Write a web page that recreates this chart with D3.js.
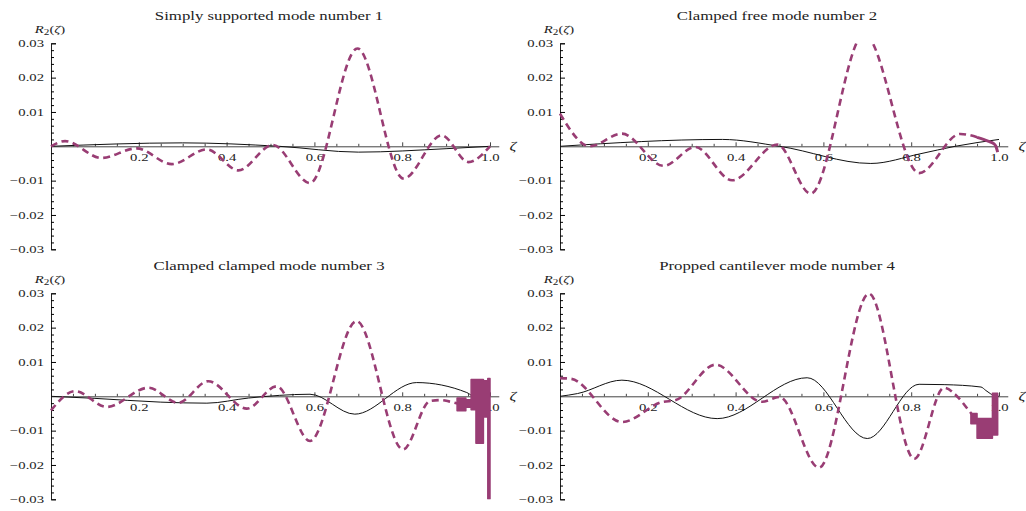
<!DOCTYPE html>
<html>
<head>
<meta charset="utf-8">
<script src="https://cdn.jsdelivr.net/npm/d3@7"></script>
<style>
  html, body { margin: 0; padding: 0; background: #fff; }
  svg text { font-family: "Liberation Serif", "Times New Roman", serif; fill: #222; }
</style>
</head>
<body>
<svg id="chart" width="1026" height="511"></svg>
<script>
// values, [zeta, R2]
const titles = [
  "Simply supported mode number 1",
  "Clamped free mode number 2",
  "Clamped clamped mode number 3",
  "Propped cantilever mode number 4"
];
const xMajor = [0.2, 0.4, 0.6, 0.8, 1.0];
const yMajor = [-0.03, -0.02, -0.01, 0.01, 0.02, 0.03];

const dashed1 = [[0, 0], [0.032, 0.0015], [0.115, -0.0034], [0.195, -0.0006], [0.275, -0.0052], [0.355, -0.0009],
  [0.427, -0.007], [0.505, 0.0004], [0.59, -0.0107], [0.698, 0.0285], [0.803, -0.0094], [0.89, 0.0032],
  [0.951, -0.0046], [1.0, 0.0]];
const solid1 = [[0, 0], [0.3, 0.001], [0.52, 0], [0.7, -0.0017], [0.9, -0.0007], [1.0, 0]];

const dashed2 = [[0, 0.0095], [0.068, 0], [0.141, 0.0037], [0.236, -0.0057], [0.308, -0.0002], [0.392, -0.0099],
  [0.495, 0.0005], [0.571, -0.0138], [0.693, 0.0327], [0.818, -0.0078], [0.912, 0.0036], [0.96, 0.0022]];
const thick2 = [[0.95, 0.0026], [0.975, 0.0015], [0.988, 0.0008], [0.993, 0.0], [0.997, -0.0017]];
const solid2 = [[0, 0], [0.37, 0.002], [0.5, 0], [0.708, -0.005], [0.82, -0.0022], [0.9, 0], [1.0, 0.002]];

const dashed3 = [[0, -0.0041], [0.055, 0.0015], [0.127, -0.0031], [0.222, 0.0025], [0.29, -0.0019], [0.358, 0.0044],
  [0.446, -0.0036], [0.514, 0.0029], [0.59, -0.013], [0.696, 0.0219], [0.802, -0.0155], [0.863, -0.0014],
  [0.89, -0.0011], [0.91, -0.0016], [0.935, -0.0022], [0.957, -0.002]];
// noisy end: [zeta, top, bottom]
const band3 = [[0.925, -0.0005, -0.0042], [0.945, -0.001, -0.0032], [0.957, 0.0049, -0.0039], [0.968, 0.0049, -0.0137],
  [0.985, 0.0045, -0.006], [0.995, 0.0052, -0.03], [1.0, 0.0052, -0.03]];
const solid3 = [[0, 0], [0.1, -0.0006], [0.25, -0.0017], [0.355, -0.002], [0.45, -0.0005], [0.59, 0.0006],
  [0.692, -0.0052], [0.833, 0.004], [0.947, 0.0011], [0.96, 0]];

const dashed4 = [[0, 0.0053], [0.025, 0.0051], [0.141, -0.0075], [0.235, -0.0016], [0.262, -0.0012], [0.354, 0.0092],
  [0.46, -0.0016], [0.5, -0.0002], [0.59, -0.0208], [0.704, 0.0299], [0.807, -0.0182], [0.875, 0.0025],
  [0.906, -0.0002], [0.928, -0.0036], [0.94, -0.0055]];
const band4 = [[0.936, -0.005, -0.008], [0.95, -0.0065, -0.0122], [0.985, 0.0009, -0.0113], [0.997, 0.0009, -0.0113]];
const solid4 = [[0, 0], [0.04, 0.0008], [0.141, 0.0047], [0.358, -0.0065], [0.563, 0.0054], [0.7, -0.0123],
  [0.818, 0.0035], [0.875, 0.0034], [0.959, 0.0027], [0.97, 0.0017], [0.98, 0.0008], [0.99, 0.0001], [1.0, 0]];

const panels = [
  { title: titles[0], dashed: dashed1, solid: solid1, band: [], thick: [] },
  { title: titles[1], dashed: dashed2, solid: solid2, band: [], thick: thick2 },
  { title: titles[2], dashed: dashed3, solid: solid3, band: band3, thick: [] },
  { title: titles[3], dashed: dashed4, solid: solid4, band: band4, thick: [] }
];

const PURPLE = "#993d74";
const SX = 1.4; // the reference is stretched horizontally
const COLX = [51, 560], ROWY = [43.3, 293.3], TITLE_X = [269, 777];
const PW = 439, PH = 206, XMAX = 1.02;

const svg = d3.select("#chart");
const fy = d3.format(".2f"), fx = d3.format(".1f");
const xMinor = d3.range(0.05, 1.0, 0.05).filter((v) => Math.abs(v * 5 - Math.round(v * 5)) > 1e-6);
const yMinor = d3.range(-0.03, 0.0301, 0.002).filter((v) => Math.abs(v * 100 - Math.round(v * 100)) > 1e-6);

function stretchText(sel) { sel.attr("transform", `scale(${SX},1)`); }

panels.forEach((p, i) => {
  const ox = COLX[i % 2], oy = ROWY[Math.floor(i / 2)];
  const x = d3.scaleLinear().domain([0, XMAX]).range([ox, ox + PW * XMAX]);
  const y = d3.scaleLinear().domain([-0.03, 0.03]).range([oy + PH, oy]);
  const g = svg.append("g");

  g.append("clipPath").attr("id", "clip" + i).append("rect")
    .attr("x", ox - 4).attr("y", oy).attr("width", PW * XMAX + 8).attr("height", PH);

  // x axis
  const xa = g.append("g").attr("transform", `translate(0,${y(0)})`)
    .call(d3.axisBottom(x).tickValues(xMajor).tickFormat(fx).tickSizeInner(-4).tickSizeOuter(0).tickPadding(7));
  xa.attr("font-family", null).attr("font-size", 10.5);
  xa.select(".domain").attr("stroke", "#444");
  xa.selectAll(".tick line").attr("stroke", "#444");
  xa.selectAll("text").call(stretchText);
  const xm = g.append("g").attr("transform", `translate(0,${y(0)})`)
    .call(d3.axisBottom(x).tickValues(xMinor).tickFormat("").tickSize(-2.5));
  xm.select(".domain").remove();
  xm.selectAll(".tick line").attr("stroke", "#444");

  // y axis
  const ya = g.append("g").attr("transform", `translate(${x(0)},0)`)
    .call(d3.axisLeft(y).tickValues(yMajor).tickFormat(fy).tickSizeInner(-5).tickSizeOuter(-5).tickPadding(5));
  ya.attr("font-family", null).attr("font-size", 10.5);
  ya.select(".domain").attr("stroke", "#222");
  ya.selectAll("text").call(stretchText);
  const ym = g.append("g").attr("transform", `translate(${x(0)},0)`)
    .call(d3.axisLeft(y).tickValues(yMinor).tickFormat("").tickSize(-3));
  ym.select(".domain").remove();

  // title and axis labels
  g.append("text").attr("transform", `translate(${TITLE_X[i % 2]},${oy - 23.8}) scale(${SX},1)`)
    .attr("text-anchor", "middle").attr("font-size", 12).text(p.title);

  const rl = g.append("text").attr("transform", `translate(${x(0) - 1},${oy - 10.6}) scale(${SX},1)`)
    .attr("text-anchor", "middle").attr("font-size", 10.5);
  rl.append("tspan").attr("font-style", "italic").text("R");
  rl.append("tspan").attr("font-size", 8).attr("dy", 2).text("2");
  rl.append("tspan").attr("dy", -2).text("(");
  rl.append("tspan").attr("font-style", "italic").text("ζ");
  rl.append("tspan").text(")");

  g.append("text").attr("transform", `translate(${x(XMAX) + 14},${y(0) + 4}) scale(${SX},1)`)
    .attr("text-anchor", "middle").attr("font-size", 12).attr("font-style", "italic").text("ζ");

  // curves
  const line = d3.line().curve(d3.curveMonotoneX).x((d) => x(d[0])).y((d) => y(d[1]));
  const plot = g.append("g").attr("clip-path", `url(#clip${i})`);

  plot.append("path").datum(p.solid).attr("d", line)
    .attr("fill", "none").attr("stroke", "#111").attr("stroke-width", 1);

  plot.append("path").datum(p.dashed).attr("d", line)
    .attr("fill", "none").attr("stroke", PURPLE).attr("stroke-width", 2.6).attr("stroke-dasharray", "7,4.5");

  if (p.thick.length) {
    plot.append("path").datum(p.thick).attr("d", line)
      .attr("fill", "none").attr("stroke", PURPLE).attr("stroke-width", 3);
  }
  if (p.band.length) {
    const area = d3.area().curve(d3.curveStepAfter)
      .x((d) => x(d[0])).y0((d) => y(d[2])).y1((d) => y(d[1]));
    plot.append("path").datum(p.band).attr("d", area)
      .attr("fill", PURPLE).attr("stroke", PURPLE).attr("stroke-width", 1.5).attr("stroke-linejoin", "round");
  }
});
</script>
</body>
</html>
